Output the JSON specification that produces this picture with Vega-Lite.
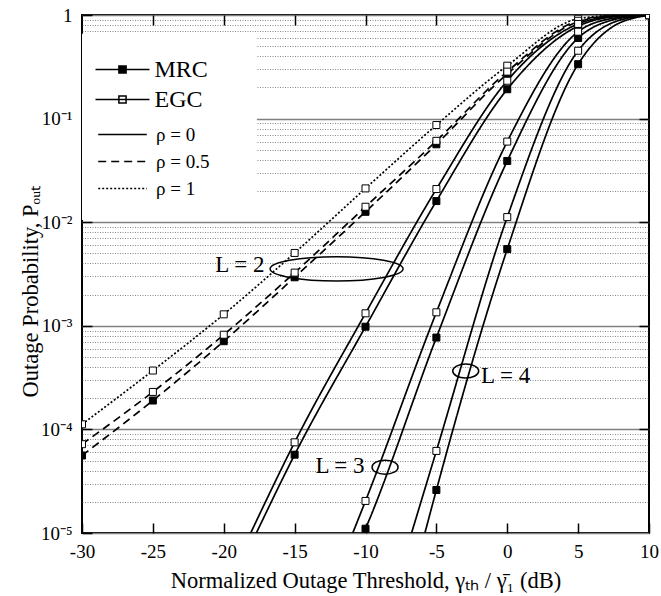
{
  "$schema": "https://vega.github.io/schema/vega-lite/v6.json",
  "width": 567,
  "height": 518,
  "autosize": {"type": "none"},
  "padding": {"left": 82, "top": 15, "right": 12, "bottom": 63},
  "background": "white",
  "config": {
    "view": {"stroke": "black", "strokeWidth": 2},
    "font": "Liberation Serif",
    "axis": {"labelFont": "Liberation Serif", "titleFont": "Liberation Serif", "labelColor": "black", "titleColor": "black", "titleFontWeight": "normal", "tickColor": "black", "tickWidth": 1.5, "domain": false},
    "legend": {"labelFont": "Liberation Serif", "labelColor": "black"}
  },
  "datasets": {
    "curves": [
      {"s": "r05M", "c": "MRC", "r": "ρ = 0.5", "x": -30, "p": 0.000056},
      {"s": "r05M", "c": "MRC", "r": "ρ = 0.5", "x": -25, "p": 0.00019},
      {"s": "r05M", "c": "MRC", "r": "ρ = 0.5", "x": -20, "p": 0.00071},
      {"s": "r05M", "c": "MRC", "r": "ρ = 0.5", "x": -15, "p": 0.00294},
      {"s": "r05M", "c": "MRC", "r": "ρ = 0.5", "x": -10, "p": 0.0126},
      {"s": "r05M", "c": "MRC", "r": "ρ = 0.5", "x": -5, "p": 0.0565},
      {"s": "r05M", "c": "MRC", "r": "ρ = 0.5", "x": 0, "p": 0.27},
      {"s": "r05M", "c": "MRC", "r": "ρ = 0.5", "x": 5, "p": 0.86},
      {"s": "r05M", "c": "MRC", "r": "ρ = 0.5", "x": 7.5, "p": 0.98},
      {"s": "r05M", "c": "MRC", "r": "ρ = 0.5", "x": 10, "p": 0.9995},
      {"s": "L2M", "c": "MRC", "r": "ρ = 0", "x": -17.7, "p": 0.00001},
      {"s": "L2M", "c": "MRC", "r": "ρ = 0", "x": -15, "p": 0.000057},
      {"s": "L2M", "c": "MRC", "r": "ρ = 0", "x": -10, "p": 0.00098},
      {"s": "L2M", "c": "MRC", "r": "ρ = 0", "x": -5, "p": 0.016},
      {"s": "L2M", "c": "MRC", "r": "ρ = 0", "x": 0, "p": 0.192},
      {"s": "L2M", "c": "MRC", "r": "ρ = 0", "x": 5, "p": 0.78},
      {"s": "L2M", "c": "MRC", "r": "ρ = 0", "x": 7.5, "p": 0.96},
      {"s": "L2M", "c": "MRC", "r": "ρ = 0", "x": 10, "p": 0.999},
      {"s": "L3M", "c": "MRC", "r": "ρ = 0", "x": -10.13, "p": 0.00001},
      {"s": "L3M", "c": "MRC", "r": "ρ = 0", "x": -10, "p": 0.000011},
      {"s": "L3M", "c": "MRC", "r": "ρ = 0", "x": -5, "p": 0.00077},
      {"s": "L3M", "c": "MRC", "r": "ρ = 0", "x": 0, "p": 0.039},
      {"s": "L3M", "c": "MRC", "r": "ρ = 0", "x": 5, "p": 0.6},
      {"s": "L3M", "c": "MRC", "r": "ρ = 0", "x": 7.5, "p": 0.9},
      {"s": "L3M", "c": "MRC", "r": "ρ = 0", "x": 10, "p": 0.998},
      {"s": "L4M", "c": "MRC", "r": "ρ = 0", "x": -5.81, "p": 0.00001},
      {"s": "L4M", "c": "MRC", "r": "ρ = 0", "x": -5, "p": 0.000026},
      {"s": "L4M", "c": "MRC", "r": "ρ = 0", "x": 0, "p": 0.0055},
      {"s": "L4M", "c": "MRC", "r": "ρ = 0", "x": 5, "p": 0.335},
      {"s": "L4M", "c": "MRC", "r": "ρ = 0", "x": 7.5, "p": 0.78},
      {"s": "L4M", "c": "MRC", "r": "ρ = 0", "x": 10, "p": 0.995},
      {"s": "r1", "c": "EGC", "r": "ρ = 1", "x": -30, "p": 0.000112},
      {"s": "r1", "c": "EGC", "r": "ρ = 1", "x": -25, "p": 0.00037},
      {"s": "r1", "c": "EGC", "r": "ρ = 1", "x": -20, "p": 0.00129},
      {"s": "r1", "c": "EGC", "r": "ρ = 1", "x": -15, "p": 0.00505},
      {"s": "r1", "c": "EGC", "r": "ρ = 1", "x": -10, "p": 0.0212},
      {"s": "r1", "c": "EGC", "r": "ρ = 1", "x": -5, "p": 0.0867},
      {"s": "r1", "c": "EGC", "r": "ρ = 1", "x": 0, "p": 0.324},
      {"s": "r1", "c": "EGC", "r": "ρ = 1", "x": 5, "p": 0.92},
      {"s": "r1", "c": "EGC", "r": "ρ = 1", "x": 7.5, "p": 0.99},
      {"s": "r1", "c": "EGC", "r": "ρ = 1", "x": 10, "p": 0.9995},
      {"s": "r05E", "c": "EGC", "r": "ρ = 0.5", "x": -30, "p": 0.000072},
      {"s": "r05E", "c": "EGC", "r": "ρ = 0.5", "x": -25, "p": 0.00023},
      {"s": "r05E", "c": "EGC", "r": "ρ = 0.5", "x": -20, "p": 0.00082},
      {"s": "r05E", "c": "EGC", "r": "ρ = 0.5", "x": -15, "p": 0.00326},
      {"s": "r05E", "c": "EGC", "r": "ρ = 0.5", "x": -10, "p": 0.0141},
      {"s": "r05E", "c": "EGC", "r": "ρ = 0.5", "x": -5, "p": 0.061},
      {"s": "r05E", "c": "EGC", "r": "ρ = 0.5", "x": 0, "p": 0.284},
      {"s": "r05E", "c": "EGC", "r": "ρ = 0.5", "x": 5, "p": 0.88},
      {"s": "r05E", "c": "EGC", "r": "ρ = 0.5", "x": 7.5, "p": 0.985},
      {"s": "r05E", "c": "EGC", "r": "ρ = 0.5", "x": 10, "p": 0.9995},
      {"s": "L2E", "c": "EGC", "r": "ρ = 0", "x": -18.1, "p": 0.00001},
      {"s": "L2E", "c": "EGC", "r": "ρ = 0", "x": -15, "p": 0.000075},
      {"s": "L2E", "c": "EGC", "r": "ρ = 0", "x": -10, "p": 0.00132},
      {"s": "L2E", "c": "EGC", "r": "ρ = 0", "x": -5, "p": 0.0209},
      {"s": "L2E", "c": "EGC", "r": "ρ = 0", "x": 0, "p": 0.232},
      {"s": "L2E", "c": "EGC", "r": "ρ = 0", "x": 5, "p": 0.82},
      {"s": "L2E", "c": "EGC", "r": "ρ = 0", "x": 7.5, "p": 0.97},
      {"s": "L2E", "c": "EGC", "r": "ρ = 0", "x": 10, "p": 0.999},
      {"s": "L3E", "c": "EGC", "r": "ρ = 0", "x": -10.9, "p": 0.00001},
      {"s": "L3E", "c": "EGC", "r": "ρ = 0", "x": -10, "p": 0.0000204},
      {"s": "L3E", "c": "EGC", "r": "ρ = 0", "x": -5, "p": 0.00135},
      {"s": "L3E", "c": "EGC", "r": "ρ = 0", "x": 0, "p": 0.06},
      {"s": "L3E", "c": "EGC", "r": "ρ = 0", "x": 5, "p": 0.69},
      {"s": "L3E", "c": "EGC", "r": "ρ = 0", "x": 7.5, "p": 0.93},
      {"s": "L3E", "c": "EGC", "r": "ρ = 0", "x": 10, "p": 0.998},
      {"s": "L4E", "c": "EGC", "r": "ρ = 0", "x": -6.75, "p": 0.00001},
      {"s": "L4E", "c": "EGC", "r": "ρ = 0", "x": -5, "p": 0.000062},
      {"s": "L4E", "c": "EGC", "r": "ρ = 0", "x": 0, "p": 0.0112},
      {"s": "L4E", "c": "EGC", "r": "ρ = 0", "x": 5, "p": 0.452},
      {"s": "L4E", "c": "EGC", "r": "ρ = 0", "x": 7.5, "p": 0.85},
      {"s": "L4E", "c": "EGC", "r": "ρ = 0", "x": 10, "p": 0.995}
    ],
    "rings": [
      {"label": "L = 2", "x": -12.04, "p": 0.00355},
      {"label": "L = 3", "x": -8.62, "p": 0.0000432},
      {"label": "L = 4", "x": -2.93, "p": 0.000366}
    ],
    "texts": [
      {"label": "L = 2", "x": -18.86, "p": 0.00386},
      {"label": "L = 3", "x": -11.8, "p": 0.0000445},
      {"label": "L = 4", "x": -0.12, "p": 0.000329}
    ],
    "legendbox": [
      {"x0": -30, "x1": -17.66, "p0": 0.66, "p1": 0.0105}
    ]
  },
  "resolve": {"axis": {"x": "independent", "y": "independent"}},
  "layer": [
    {
      "data": {"name": "legendbox"},
      "mark": {"type": "rect", "fill": "white", "strokeWidth": 0},
      "encoding": {
        "x": {"field": "x0", "type": "quantitative", "scale": {"domain": [-30, 10], "nice": false, "zero": false}, "axis": null},
        "x2": {"field": "x1"},
        "y": {"field": "p0", "type": "quantitative", "scale": {"type": "log", "domain": [0.00001, 1], "nice": false}, "axis": null},
        "y2": {"field": "p1"}
      }
    },
    {
      "data": {"name": "curves"},
      "mark": {"type": "line", "interpolate": "monotone", "strokeWidth": 1.7, "color": "black", "clip": true},
      "encoding": {
        "x": {
          "field": "x", "type": "quantitative",
          "scale": {"domain": [-30, 10], "nice": false, "zero": false},
          "axis": {
            "orient": "bottom",
            "values": [-30, -25, -20, -15, -10, -5, 0, 5, 10],
            "labelExpr": "'' + datum.value",
            "labelFontSize": 19,
            "labelPadding": 19,
            "labelFlush": false,
            "labelOverlap": false,
            "labelBound": false,
            "tickSize": -10,
            "grid": false,
            "title": "Normalized Outage Threshold, γₜₕ / γ̄₁ (dB)",
            "titleFontSize": 22.5,
            "titleX": 283.5,
            "titleY": 54,
            "titleAlign": "center",
            "titleBaseline": "alphabetic"
          }
        },
        "y": {
          "field": "p", "type": "quantitative",
          "scale": {"type": "log", "domain": [0.00001, 1], "nice": false},
          "axis": {
            "orient": "left",
            "values": [0.00001, 0.00002, 0.00003, 0.00004, 0.00005, 0.00006, 0.00007, 0.00008, 0.00009, 0.0001, 0.0002, 0.0003, 0.0004, 0.0005, 0.0006, 0.0007, 0.0008, 0.0009, 0.001, 0.002, 0.003, 0.004, 0.005, 0.006, 0.007, 0.008, 0.009, 0.01, 0.02, 0.03, 0.04, 0.05, 0.06, 0.07, 0.08, 0.09, 0.1, 0.2, 0.3, 0.4, 0.5, 0.6, 0.7, 0.8, 0.9, 1],
            "grid": true,
            "gridColor": {"condition": {"test": "abs(log(datum.value)/LN10 - round(log(datum.value)/LN10)) < 0.001", "value": "#808080"}, "value": "#555555"},
            "gridDash": {"condition": {"test": "abs(log(datum.value)/LN10 - round(log(datum.value)/LN10)) < 0.001", "value": [1, 0]}, "value": [1, 1.5]},
            "gridWidth": {"condition": {"test": "abs(log(datum.value)/LN10 - round(log(datum.value)/LN10)) < 0.001", "value": 1.3}, "value": 0.7},
            "tickOpacity": {"condition": {"test": "abs(log(datum.value)/LN10 - round(log(datum.value)/LN10)) < 0.001", "value": 1}, "value": 0},
            "tickSize": -10,
            "labelExpr": "abs(log(datum.value)/LN10 - round(log(datum.value)/LN10)) > 0.001 ? '' : (datum.value > 0.5 ? '1' : '10' + (round(log(datum.value)/LN10) == -1 ? '⁻¹' : round(log(datum.value)/LN10) == -2 ? '⁻²' : round(log(datum.value)/LN10) == -3 ? '⁻³' : round(log(datum.value)/LN10) == -4 ? '⁻⁴' : '⁻⁵'))",
            "labelFontSize": 19,
            "labelPadding": 20,
            "labelOverlap": false,
            "labelFlush": false,
            "labelBound": false,
            "title": "Outage Probability, Pₒᵤₜ",
            "titleFontSize": 22.5,
            "titleX": -45,
            "titleY": 276,
            "titleAngle": -90,
            "titleAlign": "center",
            "titleBaseline": "alphabetic"
          }
        },
        "detail": {"field": "s"},
        "strokeDash": {
          "field": "r", "type": "nominal",
          "scale": {"domain": ["ρ = 0", "ρ = 0.5", "ρ = 1"], "range": [[1, 0], [8, 5], [2, 2]]},
          "legend": {
            "orient": "none", "legendX": 30.5, "legendY": 109.5, "title": null,
            "symbolType": "M-2.7,0H2.7", "symbolSize": 324,
            "symbolStrokeColor": "black", "symbolStrokeWidth": 1.5,
            "labelFontSize": 19, "labelOffset": 23.5, "rowPadding": 7, "padding": 0
          }
        }
      }
    },
    {
      "data": {"name": "curves"},
      "transform": [{"filter": "datum.x % 5 == 0"}],
      "mark": {"type": "point", "shape": "square", "size": 49, "filled": true, "stroke": "black", "strokeWidth": 1, "opacity": 1, "clip": true},
      "encoding": {
        "x": {
          "field": "x", "type": "quantitative",
          "scale": {"domain": [-30, 10], "nice": false, "zero": false},
          "axis": {"orient": "top", "values": [-25, -20, -15, -10, -5, 0, 5], "labels": false, "tickSize": -10, "grid": false, "title": null}
        },
        "y": {
          "field": "p", "type": "quantitative",
          "scale": {"type": "log", "domain": [0.00001, 1], "nice": false},
          "axis": {"orient": "right", "values": [0.0001, 0.001, 0.01, 0.1], "labels": false, "tickSize": -10, "grid": false, "title": null}
        },
        "fill": {
          "field": "c", "type": "nominal",
          "scale": {"domain": ["MRC", "EGC"], "range": ["black", "white"]},
          "legend": {
            "orient": "none", "legendX": 28.5, "legendY": 42.5, "title": null,
            "symbolType": "M-3,0H3M-0.4,-0.4H0.4V0.4H-0.4Z", "symbolSize": 324,
            "symbolStrokeColor": "black", "symbolStrokeWidth": 1.5,
            "labelFontSize": 24, "labelOffset": 20, "rowPadding": 6, "padding": 0
          }
        }
      }
    },
    {
      "data": {"name": "rings"},
      "transform": [{"filter": "datum.label == 'L = 2'"}],
      "mark": {"type": "point", "shape": "M-1,0A1,0.183,0,1,0,1,0A1,0.183,0,1,0,-1,0Z", "size": 17689, "filled": false, "stroke": "black", "strokeWidth": 1.5, "opacity": 1},
      "encoding": {
        "x": {"field": "x", "type": "quantitative", "scale": {"domain": [-30, 10], "nice": false, "zero": false}, "axis": null},
        "y": {"field": "p", "type": "quantitative", "scale": {"type": "log", "domain": [0.00001, 1], "nice": false}, "axis": null}
      }
    },
    {
      "data": {"name": "rings"},
      "transform": [{"filter": "datum.label != 'L = 2'"}],
      "mark": {"type": "point", "shape": "M-1,0A1,0.54,0,1,0,1,0A1,0.54,0,1,0,-1,0Z", "size": 676, "filled": false, "stroke": "black", "strokeWidth": 1.5, "opacity": 1},
      "encoding": {
        "x": {"field": "x", "type": "quantitative", "scale": {"domain": [-30, 10], "nice": false, "zero": false}, "axis": null},
        "y": {"field": "p", "type": "quantitative", "scale": {"type": "log", "domain": [0.00001, 1], "nice": false}, "axis": null}
      }
    },
    {
      "data": {"name": "texts"},
      "mark": {"type": "text", "font": "Liberation Serif", "fontSize": 23, "align": "center", "baseline": "middle", "color": "black"},
      "encoding": {
        "x": {"field": "x", "type": "quantitative", "scale": {"domain": [-30, 10], "nice": false, "zero": false}, "axis": null},
        "y": {"field": "p", "type": "quantitative", "scale": {"type": "log", "domain": [0.00001, 1], "nice": false}, "axis": null},
        "text": {"field": "label"}
      }
    }
  ]
}
